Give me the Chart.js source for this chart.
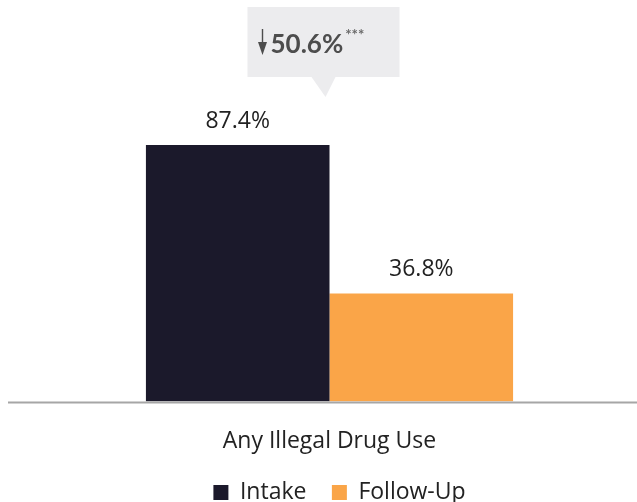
<!DOCTYPE html>
<html><head><meta charset="utf-8">
<script src="https://cdn.jsdelivr.net/npm/chart.js@4"></script>
<style>html,body{margin:0;padding:0;background:#fff;overflow:hidden}#wrap{width:637px;height:502px;overflow:hidden}</style>
</head><body><div id="wrap"><canvas id="c" width="637" height="514"></canvas></div>
<script>
const categories = ["Any Illegal Drug Use"];
const seriesNames = ["Intake", "Follow-Up"];
const intake = [87.4];
const followUp = [36.8];
const changeLabel = "50.6%";
const changeSig = "***";

const shiftLegend = {
  id: 'shiftLegend',
  afterLayout(chart) {
    if (chart.legend) { chart.legend.left += 10; chart.legend.right += 10; }
  }
};

const valueLabels = {
  id: 'valueLabels',
  afterDatasetsDraw(chart) {
    const ctx = chart.ctx;
    ctx.save();
    ctx.font = '23px "Open Sans", sans-serif';
    ctx.fillStyle = '#222';
    ctx.textAlign = 'center';
    ctx.textBaseline = 'bottom';
    chart.data.datasets.forEach((ds, i) => {
      chart.getDatasetMeta(i).data.forEach((bar, j) => {
        ctx.fillText(ds.data[j].toFixed(1) + '%', bar.x, bar.y - 12);
      });
    });
    // baseline
    const y = chart.scales.y.getPixelForValue(0);
    ctx.strokeStyle = '#a6a6a6';
    ctx.lineWidth = 2;
    ctx.beginPath(); ctx.moveTo(8, y + 1); ctx.lineTo(chart.width, y + 1); ctx.stroke();
    // callout
    const b0 = chart.getDatasetMeta(0).data[0];
    const b1 = chart.getDatasetMeta(1).data[0];
    const cx = (b0.x + b1.x) / 2 - 6;
    const top = chart.scales.y.getPixelForValue(100) - 101;
    const w = 152, h = 70;
    ctx.fillStyle = '#ececee';
    ctx.fillRect(cx - w / 2, top, w, h);
    ctx.beginPath();
    ctx.moveTo(cx - 12, top + h); ctx.lineTo(cx + 12, top + h); ctx.lineTo(cx + 2, top + h + 20); ctx.closePath();
    ctx.fill();
    // arrow
    const ax = cx - 61, ay1 = top + 22, ay2 = top + 48;
    ctx.strokeStyle = '#4d4d4d'; ctx.fillStyle = '#4d4d4d'; ctx.lineWidth = 1.4;
    ctx.beginPath(); ctx.moveTo(ax, ay1); ctx.lineTo(ax, ay2 - 6); ctx.stroke();
    ctx.beginPath(); ctx.moveTo(ax - 4.5, ay2 - 13); ctx.lineTo(ax + 4.5, ay2 - 13); ctx.lineTo(ax, ay2); ctx.closePath(); ctx.fill();
    ctx.font = 'bold 26px Lato, sans-serif';
    ctx.textAlign = 'left'; ctx.textBaseline = 'alphabetic';
    ctx.fillText(changeLabel, ax + 8, top + 46);
    const tw = ctx.measureText(changeLabel).width;
    ctx.font = 'bold 15px Lato, sans-serif';
    ctx.fillStyle = '#6a6a6a';
    ctx.fillText(changeSig, ax + 10 + tw, top + 33);
    ctx.restore();
  }
};

new Chart(document.getElementById('c'), {
  type: 'bar',
  data: {
    labels: categories,
    datasets: [
      { label: seriesNames[0], data: intake, backgroundColor: '#1b192b' },
      { label: seriesNames[1], data: followUp, backgroundColor: '#faa548' }
    ]
  },
  options: {
    responsive: false,
    animation: false,
    layout: { padding: { left: 22, right: 0, top: 108, bottom: 0 } },
    datasets: { bar: { barPercentage: 1, categoryPercentage: 0.597 } },
    scales: {
      y: { display: false, min: 0, max: 100 },
      x: {
        grid: { display: false },
        border: { display: false },
        ticks: { color: '#222', font: { family: '"Open Sans", sans-serif', size: 23 }, padding: 18 }
      }
    },
    plugins: {
      tooltip: { enabled: false },
      legend: {
        position: 'bottom',
        labels: {
          color: '#222',
          font: { family: '"Open Sans", sans-serif', size: 23 },
          boxWidth: 15, boxHeight: 15, padding: 8, useBorderRadius: false,
          generateLabels(chart) {
            const items = Chart.defaults.plugins.legend.labels.generateLabels(chart);
            items.forEach((it, i) => { if (i < items.length - 1) it.text = it.text + '\u2002 '; });
            return items;
          }
        }
      }
    }
  },
  plugins: [valueLabels, shiftLegend]
});
</script></body></html>
